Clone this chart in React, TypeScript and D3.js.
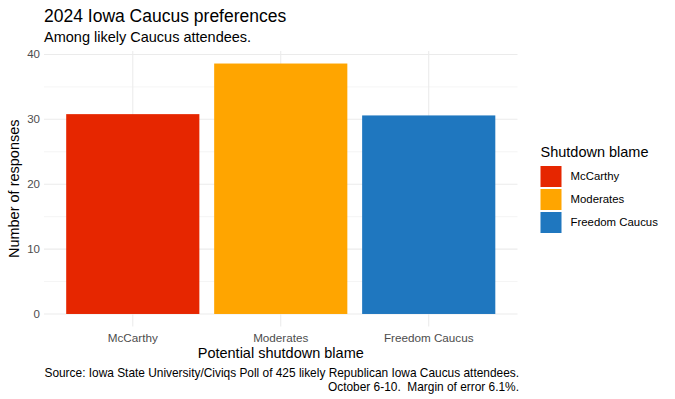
import React from "react";
import * as d3 from "d3";

const categories = ["McCarthy", "Moderates", "Freedom Caucus"];
const values = [30.8, 38.6, 30.6];
const colors = ["#E62600", "#FFA500", "#1F77BF"];
const yTicks = [0, 10, 20, 30, 40];
const yMinor = [5, 15, 25, 35];

const W = 675, H = 399;
const panel = { left: 44, right: 517.5, top: 51, bottom: 326.5 };
const FONT = "'Liberation Sans', Arial, Helvetica, sans-serif";

export default function App() {
  const maxV = d3.max(values) as number;
  const pad = maxV * 0.05;
  const y = d3.scaleLinear().domain([-pad, maxV + pad]).range([panel.bottom, panel.top]);
  const n = categories.length;
  const x = d3.scaleLinear().domain([0.4, n + 0.6]).range([panel.left, panel.right]);
  const bw = x(1.45) - x(0.55);
  const grid = "#EBEBEB";
  return (
    <svg width={W} height={H} style={{ position: "absolute", left: 0, top: 0, background: "#fff" }} fontFamily={FONT}>
      <rect x={0} y={0} width={W} height={H} fill="#fff" />
      {yMinor.map((t) => (
        <line key={"m" + t} x1={panel.left} x2={panel.right} y1={y(t)} y2={y(t)} stroke={grid} strokeWidth={0.55} />
      ))}
      {yTicks.map((t) => (
        <line key={"g" + t} x1={panel.left} x2={panel.right} y1={y(t)} y2={y(t)} stroke={grid} strokeWidth={1.07} />
      ))}
      {categories.map((c, i) => (
        <line key={"v" + c} x1={x(i + 1)} x2={x(i + 1)} y1={panel.top} y2={panel.bottom} stroke={grid} strokeWidth={1.07} />
      ))}
      {categories.map((c, i) => (
        <rect key={"b" + c} x={x(i + 1) - bw / 2} width={bw} y={y(values[i])} height={y(0) - y(values[i])} fill={colors[i]} />
      ))}
      {yTicks.map((t) => (
        <text key={"yt" + t} x={panel.left - 4} y={y(t)} dy="0.35em" textAnchor="end" fontSize={11.5} fill="#4D4D4D">{t}</text>
      ))}
      {categories.map((c, i) => (
        <text key={"xt" + c} x={x(i + 1)} y={342} textAnchor="middle" fontSize={11.7} fill="#4D4D4D">{c}</text>
      ))}
      <text x={(panel.left + panel.right) / 2} y={358} textAnchor="middle" fontSize={14.5} fill="#000">Potential shutdown blame</text>
      <text transform={`translate(18.5,${(panel.top + panel.bottom) / 2}) rotate(-90)`} textAnchor="middle" fontSize={14.5} fill="#000">Number of responses</text>
      <text x={44} y={21.5} fontSize={17.5} fill="#000">2024 Iowa Caucus preferences</text>
      <text x={44} y={42} fontSize={14.5} fill="#000">Among likely Caucus attendees.</text>
      <text x={519} y={377} textAnchor="end" fontSize={11.9} fill="#000" style={{ whiteSpace: "pre" }}>Source: Iowa State University/Civiqs Poll of 425 likely Republican Iowa Caucus attendees.</text>
      <text x={519} y={390.5} textAnchor="end" fontSize={11.9} fill="#000" style={{ whiteSpace: "pre" }}>{"October 6-10.  Margin of error 6.1%."}</text>
      <text x={540.5} y={157} fontSize={14.5} fill="#000">Shutdown blame</text>
      {categories.map((c, i) => (
        <g key={"l" + c}>
          <rect x={540.5} y={166 + i * 23} width={21} height={21} fill={colors[i]} />
          <text x={570.5} y={166 + i * 23 + 10.5} dy="0.35em" fontSize={11.4} fill="#000">{c}</text>
        </g>
      ))}
    </svg>
  );
}
